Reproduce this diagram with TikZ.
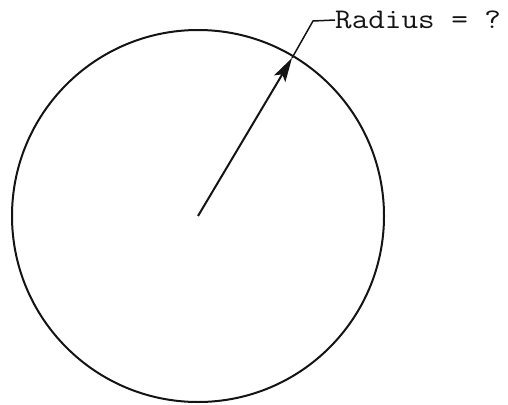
\documentclass[tikz,border=0pt]{standalone}
\usepackage{fontspec}
\usetikzlibrary{arrows.meta,positioning}
\definecolor{ink}{RGB}{20,20,20}
\tikzset{
  >={Stealth[length=24pt,width=13pt,inset=5pt]},
  rim/.style={draw=ink,line width=2pt},
  radius line/.style={->,draw=ink,line width=2pt},
  leader/.style={draw=ink,line width=1.5pt},
  tag/.style={font=\ttfamily\fontsize{28.5}{30}\selectfont,text=ink,inner sep=0pt,anchor=west},
}
\begin{document}
\begin{tikzpicture}[x=1pt,y=-1pt]
  \useasboundingbox (0,0) rectangle (508,404);
  \coordinate (ctr) at (198,216);
  \coordinate (tip) at (292,58);
  \coordinate (knee) at (313,21);
  \draw[rim] (ctr) circle (186);
  \draw[radius line] (ctr) -- (tip);
  \node[tag] (lbl) at (335,20) {\scalebox{1.13}[1]{Radius = ?}};
  \draw[leader] (tip) -- (knee) -- (lbl.west);
\end{tikzpicture}
\end{document}
